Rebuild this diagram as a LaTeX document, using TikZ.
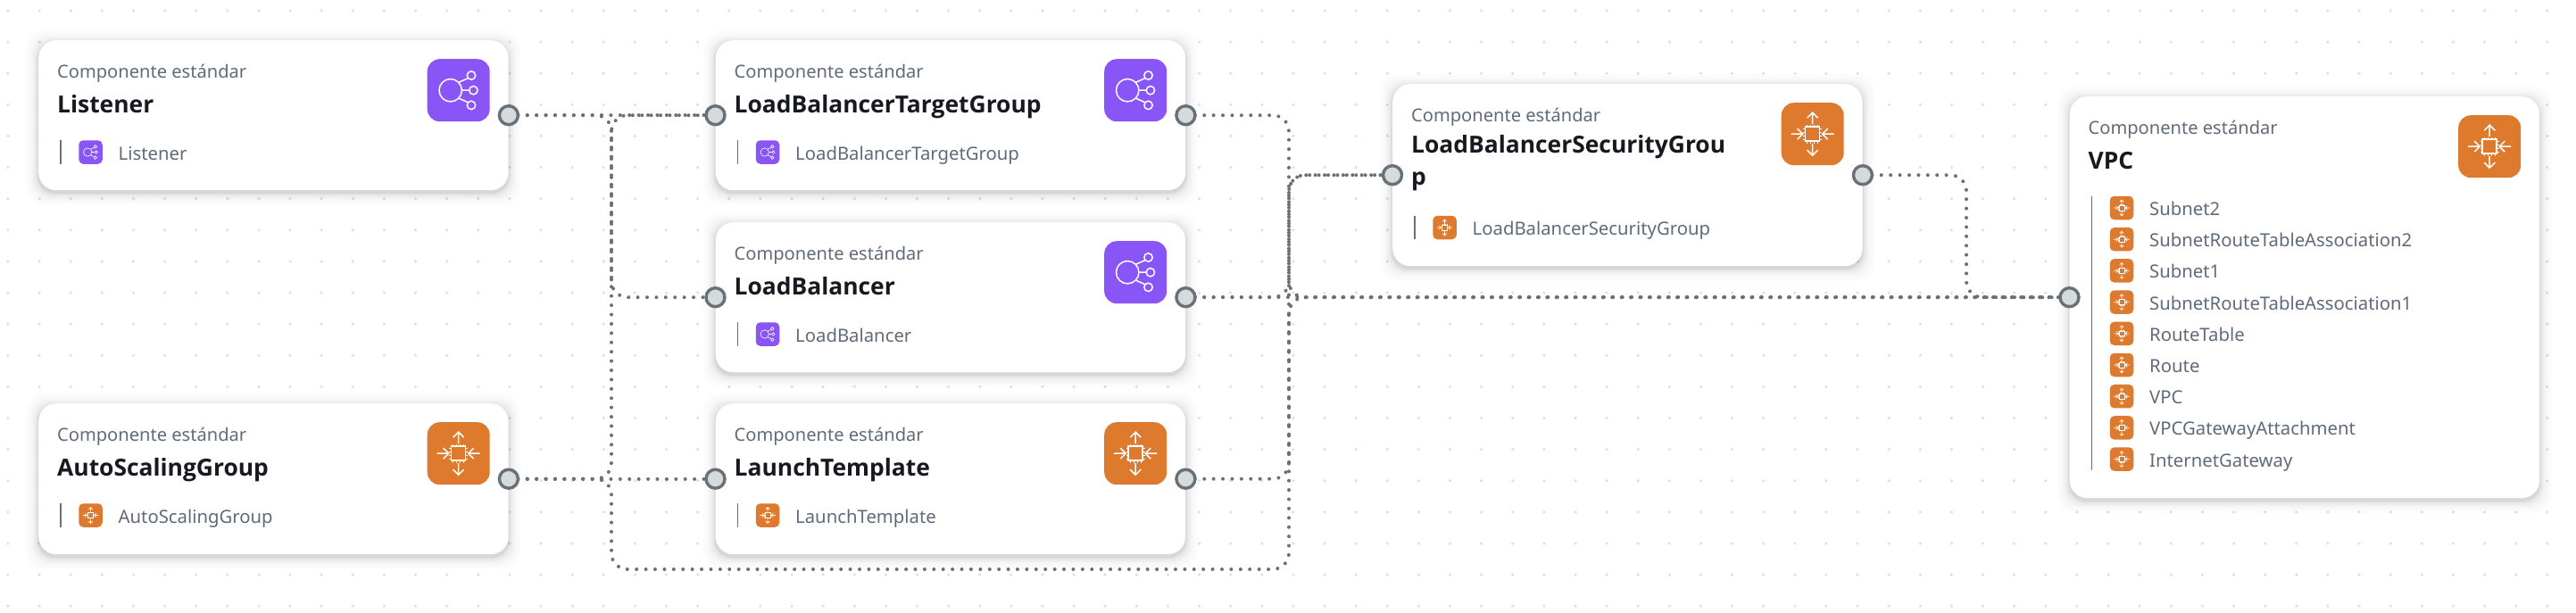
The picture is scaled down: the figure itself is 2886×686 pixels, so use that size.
\documentclass[tikz,border=0pt]{standalone}
\usepackage{fontspec}
\setmainfont{Noto Sans}
\newfontfamily\titlefont{Open Sans}
\pgfdeclarelayer{bgl}
\pgfdeclarelayer{linkl}
\pgfsetlayers{bgl,linkl,main}
\definecolor{gridc}{HTML}{DDE1E1}
\definecolor{linkc}{HTML}{687078}
\definecolor{portf}{HTML}{D5DBDB}
\definecolor{purpleic}{HTML}{8A55F7}
\definecolor{orangeic}{HTML}{DE7A2E}
\definecolor{mutedc}{HTML}{5F6B7A}
\definecolor{darkc}{HTML}{16191F}
\tikzset{
  x=1pt,y=-1pt,
  cardbox/.style={fill=white,rounded corners=20pt,minimum width=526.5pt,inner sep=0pt,anchor=north west},
  portnode/.style={circle,draw=linkc,fill=portf,line width=3.4pt,minimum size=21pt,inner sep=0pt},
  linkline/.style={draw=linkc,line width=4pt,line cap=round,dash pattern=on 0.01pt off 10.4pt,rounded corners=18pt},
  bigicon/.style={rounded corners=14pt,minimum width=70pt,minimum height=70pt,inner sep=0pt,anchor=north west},
  smallicon/.style={rounded corners=5pt,minimum width=26.5pt,minimum height=26.5pt,inner sep=0pt},
  divider/.style={draw=linkc,line width=1.4pt},
  kindtext/.style={anchor=base west,inner sep=0pt,text=mutedc,font=\fontsize{20.1}{25}\selectfont},
  titletext/.style={anchor=base west,inner sep=0pt,text=darkc,font=\titlefont\fontsize{26.4}{36}\selectfont\bfseries},
  subtext/.style={anchor=base west,inner sep=0pt,text=mutedc,font=\fontsize{20.3}{25}\selectfont},
  pics/neticon/.style={code={
    \draw[white,line width=#1] (-9,0) circle (12.7);
    \draw[white,line width=#1] (14.3,-16.7) circle (4.7) (16.7,0) circle (4.7) (14.3,16.7) circle (4.7);
    \draw[white,line width=#1] (3.7,0) -- (12,0) (0,-8.8) -- (10.7,-13.6) (0,8.8) -- (10.7,13.6);
  }},
  pics/chipicon/.style={code={
    \draw[white,line width=#1] (-8,-8) rectangle (8,8);
    \draw[white,line width=#1] (0,-11) -- (0,-24) (-6,-18) -- (0,-24) -- (6,-18);
    \draw[white,line width=#1] (0,11) -- (0,24) (-6,18) -- (0,24) -- (6,18);
    \draw[white,line width=#1] (-24,0) -- (-11,0) (-17,-6) -- (-11,0) -- (-17,6);
    \draw[white,line width=#1] (24,0) -- (11,0) (17,-6) -- (11,0) -- (17,6);
    \foreach \t in {-6,-2,2,6}{
      \draw[white,line width=#1*0.7] (\t,-8) -- (\t,-10.5) (\t,8) -- (\t,10.5) (-8,\t) -- (-10.5,\t) (8,\t) -- (10.5,\t);
    }
  }},
}
% shadow + white card: name, left, top, height
\newcommand\cardat[4]{%
  \foreach \e/\o in {14/0.010,11/0.012,8/0.016,6/0.020,4/0.026,2/0.035,1/0.04}{
    \fill[black,opacity=\o,rounded corners=20pt] (#2-\e,#3-\e+3) rectangle (#2+526.5+\e,#3+#4+\e+3);
  }
  \node[cardbox,minimum height=#4 pt] (#1) at (#2,#3) {};
  \node[kindtext] (#1-kind) at (#2+21,#3+42) {Componente estándar};
}
% big icon at the top right of a card: name, left, top, colour, icon
\newcommand\bigiconat[5]{%
  \node[bigicon,fill=#4] (#1-icon) at (#2+435.5,#3+21) {};
  \pic at (#1-icon.center) {#5={1.5pt}};
}
% small icon with text: name, icon centre x, centre y, colour, icon, text
\newcommand\iconitem[6]{%
  \node[smallicon,fill=#4] (#1-i) at (#2,#3) {};
  \pic[scale=0.37] at (#1-i.center) {#5={0.6pt}};
  \node[subtext] (#1-t) at (#2+31,#3+8.5) {#6};
}
\begin{document}
\begin{tikzpicture}
\useasboundingbox (0,0) rectangle (2886,686);
\begin{pgfonlayer}{bgl}
\fill[white] (0,0) rectangle (2886,686);
\fill[gridc] \foreach \i in {0,...,81}{\foreach \j in {0,...,19}{(9+\i*35.12,12+\j*35.12) circle (1.8)}};
\end{pgfonlayer}

% Cards
\cardat{listener}{43}{45}{168}
\node[titletext] (listener-title) at (64,126) {Listener};
\bigiconat{listener}{43}{45}{purpleic}{neticon}
\draw[divider] (68,157) -- (68,184);
\iconitem{listener-s}{101.5}{170.5}{purpleic}{neticon}{Listener}

\cardat{asg}{43}{452}{169}
\node[titletext] (asg-title) at (64,533) {AutoScalingGroup};
\bigiconat{asg}{43}{452}{orangeic}{chipicon}
\draw[divider] (68,564) -- (68,591);
\iconitem{asg-s}{101.5}{577.5}{orangeic}{chipicon}{AutoScalingGroup}

\cardat{lbtg}{801.5}{45}{168}
\node[titletext] (lbtg-title) at (822.5,126) {LoadBalancerTargetGroup};
\bigiconat{lbtg}{801.5}{45}{purpleic}{neticon}
\draw[divider] (826.5,157) -- (826.5,184);
\iconitem{lbtg-s}{860}{170.5}{purpleic}{neticon}{LoadBalancerTargetGroup}

\cardat{lb}{801.5}{249}{168}
\node[titletext] (lb-title) at (822.5,330) {LoadBalancer};
\bigiconat{lb}{801.5}{249}{purpleic}{neticon}
\draw[divider] (826.5,361) -- (826.5,388);
\iconitem{lb-s}{860}{374.5}{purpleic}{neticon}{LoadBalancer}

\cardat{lt}{801.5}{452}{169}
\node[titletext] (lt-title) at (822.5,533) {LaunchTemplate};
\bigiconat{lt}{801.5}{452}{orangeic}{chipicon}
\draw[divider] (826.5,564) -- (826.5,591);
\iconitem{lt-s}{860}{577.5}{orangeic}{chipicon}{LaunchTemplate}

\cardat{lbsg}{1560}{94}{204}
\node[titletext,anchor=north west,align=left] (lbsg-title) at (1581,151) {LoadBalancerSecurityGrou\\p};
\bigiconat{lbsg}{1560}{94}{orangeic}{chipicon}
\draw[divider] (1585,242) -- (1585,268);
\iconitem{lbsg-s}{1618.5}{255}{orangeic}{chipicon}{LoadBalancerSecurityGroup}

\cardat{vpc}{2318.5}{108}{450}
\node[titletext] (vpc-title) at (2339.5,189) {VPC};
\bigiconat{vpc}{2318.5}{108}{orangeic}{chipicon}
\draw[divider] (2343.5,220) -- (2343.5,527);
\iconitem{vpc-a}{2377}{233}{orangeic}{chipicon}{Subnet2}
\iconitem{vpc-b}{2377}{268.2}{orangeic}{chipicon}{SubnetRouteTableAssociation2}
\iconitem{vpc-c}{2377}{303.4}{orangeic}{chipicon}{Subnet1}
\iconitem{vpc-d}{2377}{338.6}{orangeic}{chipicon}{SubnetRouteTableAssociation1}
\iconitem{vpc-e}{2377}{373.8}{orangeic}{chipicon}{RouteTable}
\iconitem{vpc-f}{2377}{409}{orangeic}{chipicon}{Route}
\iconitem{vpc-g}{2377}{444.2}{orangeic}{chipicon}{VPC}
\iconitem{vpc-h}{2377}{479.4}{orangeic}{chipicon}{VPCGatewayAttachment}
\iconitem{vpc-j}{2377}{514.6}{orangeic}{chipicon}{InternetGateway}

% Ports
\node[portnode] (listener-r) at (listener.east) {};
\node[portnode] (asg-r) at (asg.east) {};
\node[portnode] (lbtg-l) at (lbtg.west) {};
\node[portnode] (lbtg-r) at (lbtg.east) {};
\node[portnode] (lb-l) at (lb.west) {};
\node[portnode] (lb-r) at (lb.east) {};
\node[portnode] (lt-l) at (lt.west) {};
\node[portnode] (lt-r) at (lt.east) {};
\node[portnode] (lbsg-l) at (lbsg.west) {};
\node[portnode] (lbsg-r) at (lbsg.east) {};
\node[portnode] (vpc-l) at (vpc.west) {};

% Connectors
\coordinate (busA) at (685,0);
\coordinate (busB) at (1444,0);
\coordinate (busC) at (2203,0);
\coordinate (floor) at (0,638);
\begin{pgfonlayer}{linkl}
\draw[linkline] (listener-r.center) -- (lbtg-l.center);
\draw[linkline] (listener-r.center) -- (listener-r.center -| busA) -- (lb-l.center -| busA) -- (lb-l.center);
\draw[linkline] (asg-r.center) -- (lt-l.center);
\draw[linkline] (asg-r.center) -- (asg-r.center -| busA) -- (lbtg-l.center -| busA) -- (lbtg-l.center);
\draw[linkline] (asg-r.center) -- (asg-r.center -| busA) -- (busA |- floor) -- (busB |- floor) -- (lbsg-l.center -| busB) -- (lbsg-l.center);
\draw[linkline] (lb-r.center) -- (vpc-l.center);
\draw[linkline] (lb-r.center) -- (lb-r.center -| busB) -- (lbsg-l.center -| busB) -- (lbsg-l.center);
\draw[linkline] (lbtg-r.center) -- (lbtg-r.center -| busB) -- (vpc-l.center -| busB) -- (vpc-l.center);
\draw[linkline] (lt-r.center) -- (lt-r.center -| busB) -- (vpc-l.center -| busB) -- (vpc-l.center);
\draw[linkline] (lbsg-r.center) -- (lbsg-r.center -| busC) -- (vpc-l.center -| busC) -- (vpc-l.center);
\end{pgfonlayer}
\end{tikzpicture}
\end{document}
